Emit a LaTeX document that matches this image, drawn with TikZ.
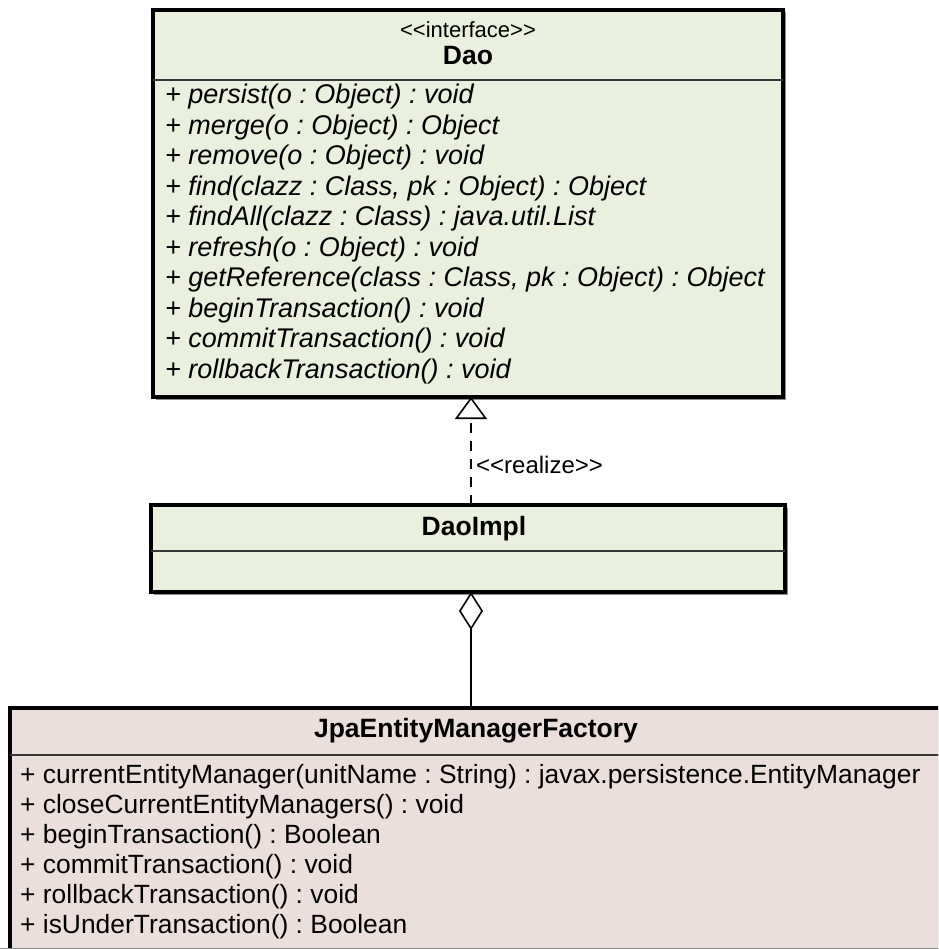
\documentclass[tikz,border=0pt]{standalone}
\usepackage{fontspec}
\setmainfont[Ligatures=NoCommon]{Liberation Sans}
\usetikzlibrary{arrows.meta,calc,shadows}
\definecolor{ifacefill}{RGB}{233,240,221}
\definecolor{jpafill}{RGB}{235,223,219}
\definecolor{sepgray}{RGB}{55,55,55}
\newcommand{\lguil}{<{}<}
\newcommand{\rguil}{>{}>}
\begin{document}
\frenchspacing
\begin{tikzpicture}[x=1pt,y=-1pt,
  classbox/.style={draw=black, line width=3.5pt, rectangle, inner sep=0pt, outer sep=0pt, anchor=north west,
    drop shadow={shadow xshift=2.5pt, shadow yshift=-2.5pt, fill=black!45, opacity=1}},
  sepline/.style={draw=sepgray, line width=1.6pt},
  member/.style={anchor=west, inner sep=0pt, font=\fontsize{26.4}{30}\selectfont},
  absmember/.style={member, font=\fontsize{27}{30}\selectfont\itshape},
  title/.style={inner sep=0pt, font=\fontsize{26.5}{30}\selectfont\bfseries},
  stereo/.style={inner sep=0pt, font=\fontsize{22}{26}\selectfont},
  realizes/.style={draw=black, line width=1.6pt, dash pattern=on 10pt off 8pt,
    -{Triangle[open, length=22pt, width=32pt, line width=1.6pt, fill=white]}},
  aggregates/.style={draw=black, line width=1.6pt,
    {Diamond[open, length=38pt, width=24pt, line width=1.6pt, fill=white]}-}
]
\useasboundingbox (0,0) rectangle (938,949);
\clip (0,0) rectangle (938,949);

% interface Dao
\node[classbox, fill=ifacefill, minimum width=630pt, minimum height=387pt] (dao) at (153,10) {};
\draw[sepline] (dao.west |- 0,80) -- (dao.east |- 0,80);
\node[stereo] (daostereo) at (468,30) {\lguil interface\rguil};
\node[title] (daotitle) at (468,56) {Dao};
\foreach \txt [count=\i from 0] in {
  {+ persist(o : Object) : void},
  {+ merge(o : Object) : Object},
  {+ remove(o : Object) : void},
  {+ find(clazz : Class, pk : Object) : Object},
  {+ findAll(clazz : Class) : java.util.List},
  {+ refresh(o : Object) : void},
  {+ getReference(class : Class, pk : Object) : Object},
  {+ beginTransaction() : void},
  {+ commitTransaction() : void},
  {+ rollbackTransaction() : void}}
  \node[absmember] (daoop\i) at (165,{97+30.5*\i}) {\txt};

% class DaoImpl
\node[classbox, fill=ifacefill, minimum width=634pt, minimum height=87pt] (impl) at (151,505) {};
\draw[sepline] (impl.west |- 0,551) -- (impl.east |- 0,551);
\node[title] (impltitle) at (474,529) {DaoImpl};

% class JpaEntityManagerFactory (runs past the right and bottom edges)
\node[classbox, fill=jpafill, minimum width=940pt, minimum height=244pt] (jpa) at (10,708) {};
\draw[sepline] (jpa.west |- 0,755) -- (jpa.east |- 0,755);
\node[title] (jpatitle) at (476,731) {JpaEntityManagerFactory};
\foreach \txt [count=\i from 0] in {
  {+ currentEntityManager(unitName : String) : javax.persistence.EntityManager},
  {+ closeCurrentEntityManagers() : void},
  {+ beginTransaction() : Boolean},
  {+ commitTransaction() : void},
  {+ rollbackTransaction() : void},
  {+ isUnderTransaction() : Boolean}}
  \node[member] (jpaop\i) at (20,{777+30*\i}) {\txt};
\draw[black!45, line width=1pt] (0,948.5) -- (938,948.5);

% relations
\coordinate (implTop) at (471,505);
\coordinate (daoBottom) at (471,397);
\draw[realizes] (implTop) -- (daoBottom);
\node[stereo, anchor=west, font=\fontsize{24}{28}\selectfont] (realizelbl) at (476,465) {\lguil realize\rguil};

\coordinate (implBottom) at (471,592);
\coordinate (jpaTop) at (471,708);
\draw[aggregates] (implBottom) -- (jpaTop);
\end{tikzpicture}
\end{document}
